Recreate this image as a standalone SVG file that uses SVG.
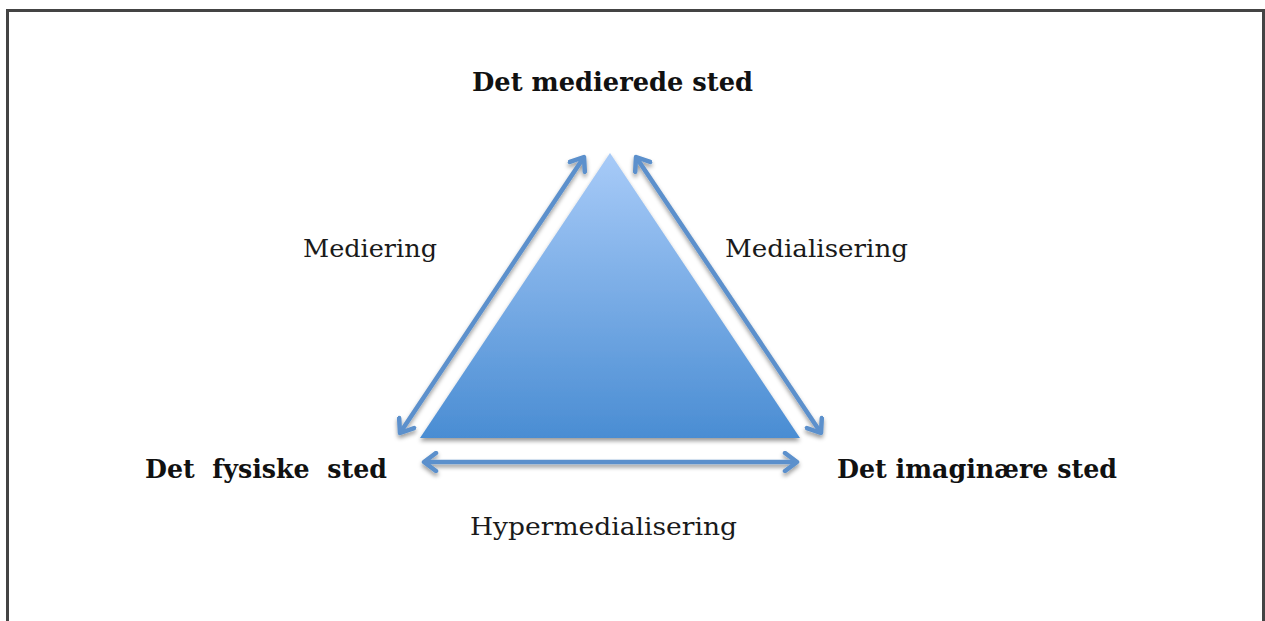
<svg xmlns="http://www.w3.org/2000/svg" width="1265" height="621" viewBox="0 0 1265 621">
<defs>
<linearGradient id="tri" x1="0" y1="0" x2="0" y2="1">
<stop offset="0" stop-color="#a8cbf8"/>
<stop offset="1" stop-color="#4a8dd3"/>
</linearGradient>
<filter id="sh" x="-10%" y="-10%" width="120%" height="130%">
<feDropShadow dx="0" dy="3" stdDeviation="2" flood-color="#000" flood-opacity="0.4"/>
</filter>
<marker id="ah" viewBox="-15 -11 18 22" refX="0" refY="0" markerWidth="18" markerHeight="22" markerUnits="userSpaceOnUse" orient="auto-start-reverse">
<path d="M-12,-9 L0,0 L-12,9" fill="none" stroke="#5b90cc" stroke-width="4.5" stroke-linecap="round" stroke-linejoin="round"/>
</marker>
</defs>
<style>
.b{font-family:"DejaVu Serif","Liberation Serif",serif;font-weight:bold;font-size:26px;fill:#111;white-space:pre}
.r{font-family:"DejaVu Serif","Liberation Serif",serif;font-size:24px;fill:#1a1a1a}
.c{fill:none;stroke:#5b90cc;stroke-width:4.5;marker-start:url(#ah);marker-end:url(#ah)}
</style>
<rect x="0" y="0" width="1265" height="621" fill="#fff"/>
<path d="M7.5,621 V10.5 H1263.5 V621" fill="none" stroke="#444" stroke-width="3"/>
<g id="triangle">
<polygon points="610,153 800,438 420,438" fill="url(#tri)" filter="url(#sh)"/>
</g>
<g id="connectors" filter="url(#sh)">
<line class="c" x1="400" y1="433" x2="584" y2="157"/>
<line class="c" x1="636" y1="157" x2="821" y2="433"/>
<line class="c" x1="424" y1="462" x2="797" y2="462"/>
</g>
<g id="n-mediated"><text class="b" x="472" y="91" textLength="281" lengthAdjust="spacingAndGlyphs">Det medierede sted</text></g>
<g id="n-physical"><text class="b" x="145" y="478" textLength="242" lengthAdjust="spacingAndGlyphs">Det  fysiske  sted</text></g>
<g id="n-imaginary"><text class="b" x="837" y="478" textLength="280" lengthAdjust="spacingAndGlyphs">Det imaginære sted</text></g>
<g id="labels">
<text class="r" x="303" y="257" textLength="134" lengthAdjust="spacingAndGlyphs">Mediering</text>
<text class="r" x="725" y="257" textLength="183" lengthAdjust="spacingAndGlyphs">Medialisering</text>
<text class="r" x="470" y="535" textLength="267" lengthAdjust="spacingAndGlyphs">Hypermedialisering</text>
</g>
</svg>
